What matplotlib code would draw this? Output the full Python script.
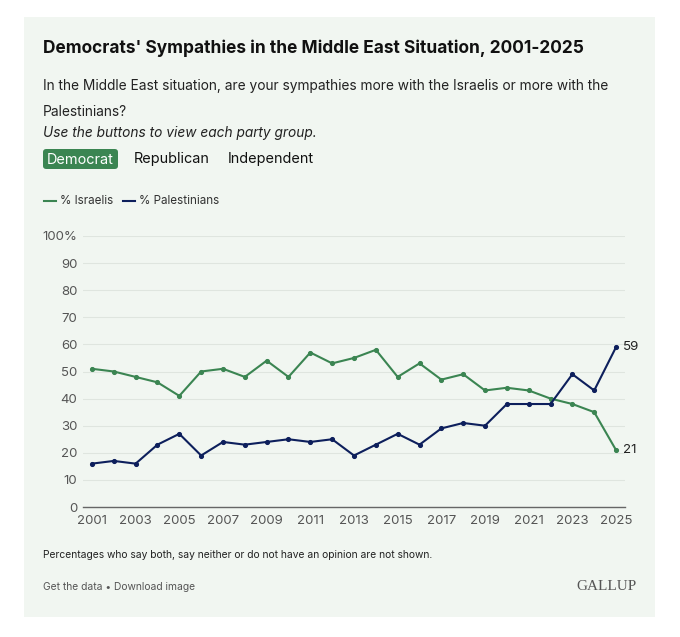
import matplotlib.pyplot as plt
from matplotlib.patches import FancyBboxPatch, Rectangle

years = list(range(2001, 2026))
israelis = [51, 50, 48, 46, 41, 50, 51, 48, 54, 48, 57, 53, 55, 58, 48, 53, 47, 49, 43, 44, 43, 40, 38, 35, 21]
palestinians = [16, 17, 16, 23, 27, 19, 24, 23, 24, 25, 24, 25, 19, 23, 27, 23, 29, 31, 30, 38, 38, 38, 49, 43, 59]
xticks = list(range(2001, 2026, 2))
yticks = list(range(0, 101, 10))

green = '#3b8552'
navy = '#0d1f5c'
panel = '#f1f6f1'

plt.rcParams['font.family'] = ['Inter', 'DejaVu Sans']

W, H = 680, 637
fig = plt.figure(figsize=(W / 100, H / 100), dpi=100)
fig.patch.set_facecolor('white')


def fx(px):
    return px / W


def fy(py):
    return 1 - py / H


# background panel (below the axes)
fig.patches.append(Rectangle((fx(24), fy(617)), fx(655) - fx(24), fy(17) - fy(617),
                             transform=fig.transFigure, facecolor=panel, edgecolor='none', zorder=-10))

fig.text(fx(43), fy(48), "Democrats' Sympathies in the Middle East Situation, 2001-2025",
         fontsize=12.45, fontweight='bold', color='#111111', va='center')
fig.text(fx(43), fy(86), "In the Middle East situation, are your sympathies more with the Israelis or more with the",
         fontsize=9.9, color='#222222', va='center')
fig.text(fx(43), fy(112), "Palestinians?", fontsize=9.9, color='#222222', va='center')
fig.text(fx(43), fy(133), "Use the buttons to view each party group.", fontsize=9.9,
         style='italic', color='#222222', va='center')

# buttons
fig.patches.append(FancyBboxPatch((fx(43), fy(169)), fx(118) - fx(43), fy(149) - fy(169),
                                  boxstyle='round,pad=0,rounding_size=0.005',
                                  transform=fig.transFigure, facecolor=green, edgecolor='none'))
fig.text(fx(80.5), fy(159.5), "Democrat", fontsize=10.4, color='white', ha='center', va='center')
fig.text(fx(134), fy(159.5), "Republican", fontsize=10.4, color='#111111', va='center')
fig.text(fx(228), fy(159.5), "Independent", fontsize=10.4, color='#111111', va='center')

# legend
fig.lines.append(plt.Line2D([fx(44), fx(56)], [fy(201), fy(201)], transform=fig.transFigure,
                            color=green, lw=1.5))
fig.text(fx(60), fy(201), "% Israelis", fontsize=8.4, color='#333333', va='center')
fig.lines.append(plt.Line2D([fx(123), fx(135)], [fy(201), fy(201)], transform=fig.transFigure,
                            color=navy, lw=1.5))
fig.text(fx(139), fy(201), "% Palestinians", fontsize=8.4, color='#333333', va='center')

ax = fig.add_axes([fx(83), fy(507), fx(625) - fx(83), fy(236) - fy(507)])
ax.set_facecolor('none')
ax.plot(years, israelis, color=green, lw=1.5, marker='o', ms=2.7, clip_on=False, zorder=3)
ax.plot(years, palestinians, color=navy, lw=1.5, marker='o', ms=2.7, clip_on=False, zorder=4)

ax.set_xlim(2000.59, 2025.41)
ax.set_ylim(0, 100)
ax.set_xticks(xticks)
ax.set_yticks(yticks)
ax.set_yticklabels([str(v) + ('%' if v == 100 else '') for v in yticks])
ax.tick_params(length=0, labelsize=9.5, labelcolor='#555555', pad=4)
ax.tick_params(axis='x', pad=5.5)
ax.grid(axis='y', color='#dfe5df', lw=0.8)
ax.set_axisbelow(True)
for s in ['top', 'right', 'left']:
    ax.spines[s].set_visible(False)
ax.spines['bottom'].set_color('#666666')
ax.spines['bottom'].set_linewidth(1.0)

ax.annotate(str(palestinians[-1]), (years[-1], palestinians[-1]), xytext=(5, 0),
            textcoords='offset points', va='center', fontsize=9.6, color='#222222')
ax.annotate(str(israelis[-1]), (years[-1], israelis[-1]), xytext=(5, 0),
            textcoords='offset points', va='center', fontsize=9.6, color='#222222')

fig.text(fx(43), fy(555), "Percentages who say both, say neither or do not have an opinion are not shown.",
         fontsize=7.4, color='#222222', va='center')
fig.text(fx(43), fy(587), "Get the data \u2022 Download image", fontsize=7.4, color='#555555', va='center')
fig.text(fx(637), fy(586), "GALLUP", fontsize=11, family='Liberation Serif', color='#555555',
         ha='right', va='center')

fig.savefig('out.png', dpi=100)
